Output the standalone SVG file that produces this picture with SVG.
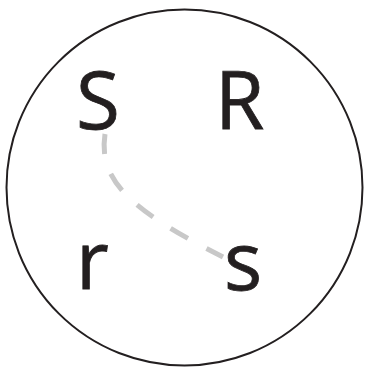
<svg xmlns="http://www.w3.org/2000/svg" width="365" height="367" viewBox="0 0 365 367">
<style>
.lbl{font-family:"Open Sans","Liberation Sans",sans-serif;font-size:80px;fill:#231f20;stroke:#231f20;stroke-width:0.8}
.conn{fill:none;stroke:#c8c8c8;stroke-width:5;stroke-dasharray:20 21}
</style>
<rect width="365" height="367" fill="#fff"/>
<circle cx="184.5" cy="187.5" r="178" fill="none" stroke="#231f20" stroke-width="2"/>
<g id="connectors">
<path class="conn" d="M105,134 C98,180 130,210 223,257"/>
</g>
<g id="node-S"><text class="lbl" x="76" y="129">S</text></g>
<g id="node-R"><text class="lbl" x="215" y="129">R</text></g>
<g id="node-r"><text class="lbl" x="76" y="289">r</text></g>
<g id="node-s"><text class="lbl" x="224" y="290">s</text></g>
</svg>
